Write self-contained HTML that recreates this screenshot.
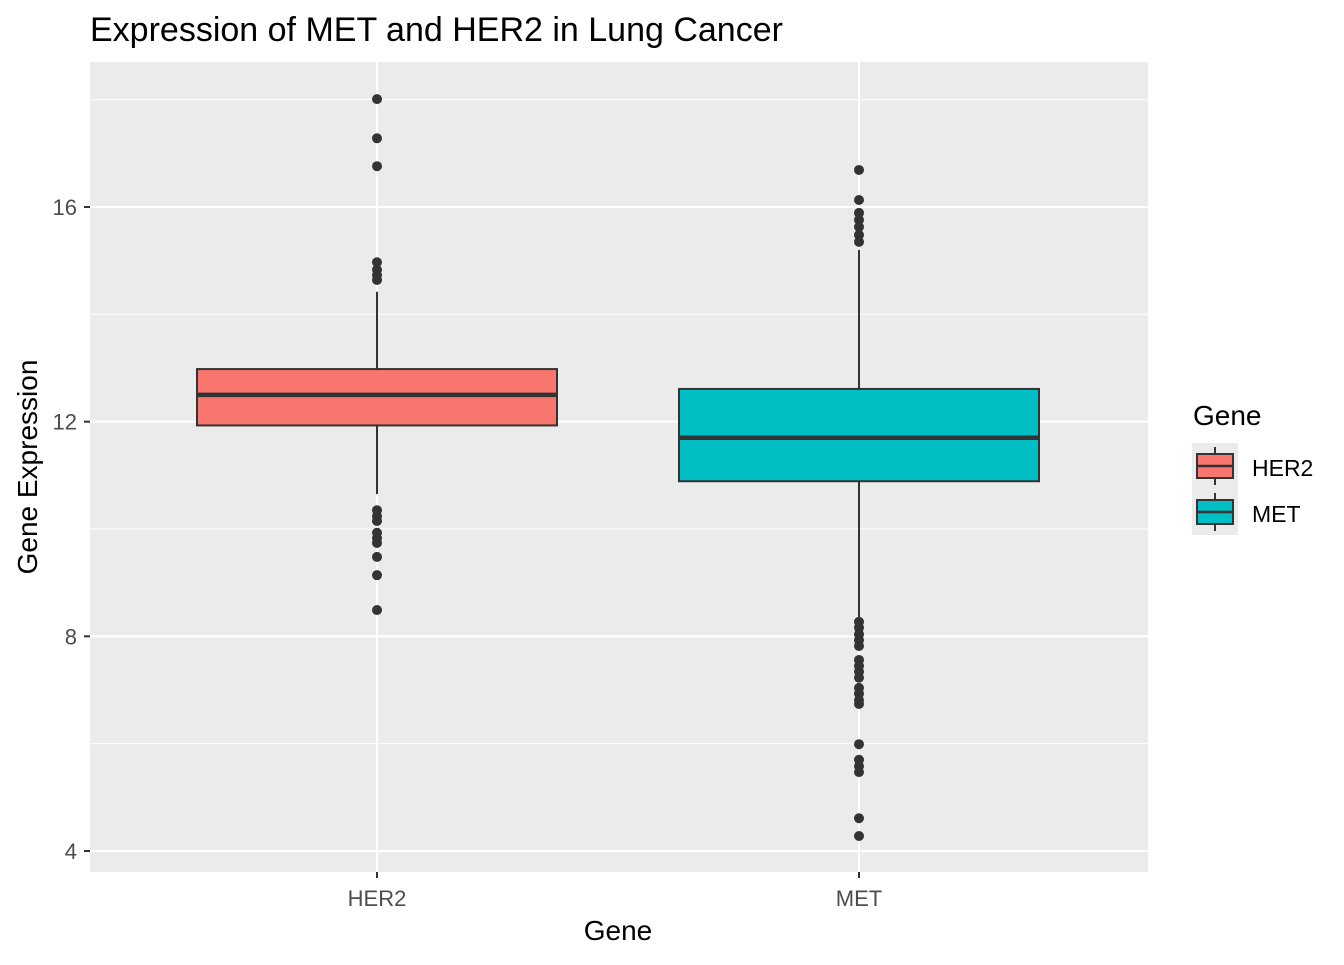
<!DOCTYPE html>
<html><head><meta charset="utf-8"><style>
body{margin:0;background:#fff;font-family:"Liberation Sans",Arial,sans-serif}
svg text{font-family:"Liberation Sans",Arial,sans-serif}
</style></head><body>
<svg id="chart" width="1344" height="960" xmlns="http://www.w3.org/2000/svg">
<text x="90" y="41" font-size="34" fill="#000">Expression of MET and HER2 in Lung Cancer</text>
<rect x="90" y="62" width="1058" height="810" fill="#ebebeb"/>
<g id="grid"></g>
<g id="marks"></g>
<g id="axes"></g>
<text x="618" y="940" font-size="28" text-anchor="middle" fill="#000">Gene</text>
<text transform="translate(37,467) rotate(-90)" font-size="28" text-anchor="middle" fill="#000">Gene Expression</text>
<g>
<text x="1193" y="425" font-size="28" fill="#000">Gene</text>
<rect x="1192" y="443" width="46" height="92" fill="#ebebeb"/>
<g>
<line x1="1215" y1="447" x2="1215" y2="485" stroke="#333" stroke-width="2"/>
<rect x="1197" y="454" width="36" height="24" fill="#F8766D" stroke="#333" stroke-width="2"/>
<line x1="1197" y1="466" x2="1233" y2="466" stroke="#333" stroke-width="2.5"/>
<text x="1252" y="476" font-size="23" fill="#000">HER2</text></g>
<g>
<line x1="1215" y1="493" x2="1215" y2="531" stroke="#333" stroke-width="2"/>
<rect x="1197" y="500" width="36" height="24" fill="#00BFC4" stroke="#333" stroke-width="2"/>
<line x1="1197" y1="512" x2="1233" y2="512" stroke="#333" stroke-width="2.5"/>
<text x="1252" y="522" font-size="23" fill="#000">MET</text></g>
</g>
</svg>
<script>
const categories=["HER2","MET"];
const colors=["#F8766D","#00BFC4"];
const q1=[11.93,10.89];
const medians=[12.50,11.70];
const q3=[12.98,12.61];
const whiskLow=[10.65,8.30];
const whiskHigh=[14.42,15.20];
const outliersHER2=[18.01,17.28,16.76,14.97,14.83,14.73,14.64,10.35,10.24,10.15,9.93,9.83,9.74,9.48,9.14,8.49];
const outliersMET=[16.69,16.13,15.89,15.76,15.63,15.48,15.35,8.27,8.16,8.04,7.93,7.82,7.56,7.45,7.34,7.23,7.04,6.93,6.81,6.74,5.99,5.70,5.58,5.47,4.61,4.28];
const yTicks=[4,8,12,16];
const yMinor=[6,10,14,18];

const NS="http://www.w3.org/2000/svg";
function y(v){return 851-(v-4)*(851-207)/12;}
function x(i){return 377+i*482;}
const boxW=360;
function mk(tag,attrs,parent){const e=document.createElementNS(NS,tag);for(const k in attrs)e.setAttribute(k,attrs[k]);parent.appendChild(e);return e;}
const grid=document.getElementById('grid'),marks=document.getElementById('marks'),axes=document.getElementById('axes');
yMinor.forEach(v=>{const l=mk('line',{x1:90,x2:1148,y1:y(v),y2:y(v),stroke:'#fff','stroke-width':1},grid);

});
yTicks.forEach(v=>{const l=mk('line',{x1:90,x2:1148,y1:y(v),y2:y(v),stroke:'#fff','stroke-width':2},grid);


mk('line',{x1:84,x2:90,y1:y(v),y2:y(v),stroke:'#333','stroke-width':2},axes);
const t=mk('text',{x:77,y:y(v)+8,'font-size':22,'text-anchor':'end',fill:'#4d4d4d'},axes);t.textContent=v;

});
categories.forEach((c,i)=>{const cx=x(i);
const g=mk('line',{x1:cx,x2:cx,y1:62,y2:872,stroke:'#fff','stroke-width':2},grid);


mk('line',{x1:cx,x2:cx,y1:872,y2:878,stroke:'#333','stroke-width':2},axes);
const t=mk('text',{x:cx,y:906,'font-size':22,'text-anchor':'middle',fill:'#4d4d4d'},axes);t.textContent=c;


const grp=mk('g',{},marks);


mk('line',{x1:cx,x2:cx,y1:y(whiskHigh[i]),y2:y(q3[i]),stroke:'#333','stroke-width':2},grp);
mk('line',{x1:cx,x2:cx,y1:y(q1[i]),y2:y(whiskLow[i]),stroke:'#333','stroke-width':2},grp);
mk('rect',{x:cx-boxW/2,y:y(q3[i]),width:boxW,height:y(q1[i])-y(q3[i]),fill:colors[i],stroke:'#333','stroke-width':2},grp);
mk('line',{x1:cx-boxW/2,x2:cx+boxW/2,y1:y(medians[i]),y2:y(medians[i]),stroke:'#333','stroke-width':4.5},grp);
const outs=i===0?outliersHER2:outliersMET;
outs.forEach(v=>{const p=mk('circle',{cx:cx,cy:y(v),r:5,fill:'#333'},marks);

});
});
</script>
</body></html>
